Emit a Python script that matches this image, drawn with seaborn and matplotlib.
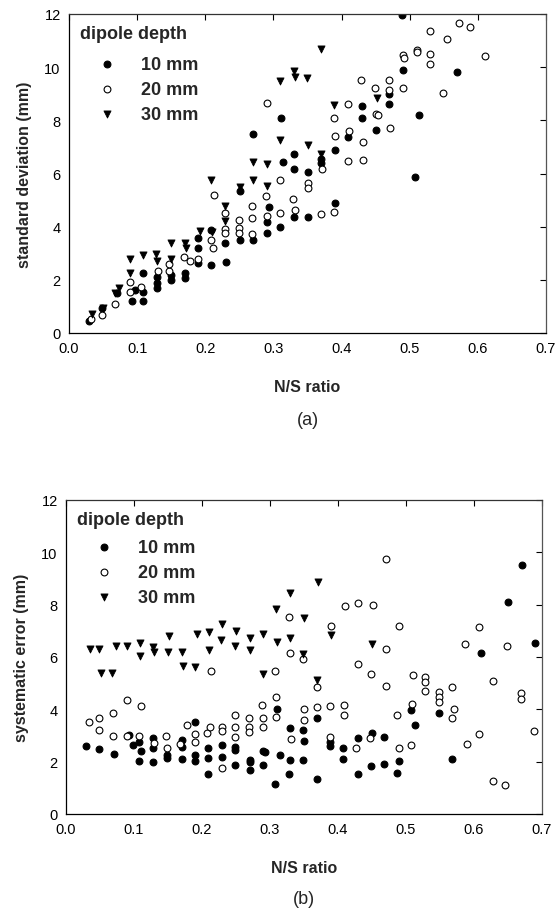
import matplotlib
matplotlib.use("Agg")
import matplotlib.pyplot as plt
import seaborn as sns
import pandas as pd

# ---------------- (a) standard deviation ----------------
sd10_x = [0.029, 0.048, 0.07, 0.093, 0.097, 0.108, 0.109, 0.109, 0.129, 0.129, 0.129, 0.149, 0.15,
          0.17, 0.17, 0.19, 0.19, 0.19, 0.209, 0.209, 0.231, 0.229, 0.251, 0.251, 0.27, 0.27,
          0.291, 0.291, 0.293, 0.309, 0.311, 0.314, 0.33, 0.33, 0.33, 0.351, 0.35, 0.37, 0.37,
          0.391, 0.391, 0.409, 0.43, 0.43, 0.451, 0.469, 0.469, 0.49, 0.489, 0.508, 0.514, 0.57]
sd10_y = [0.44, 0.95, 1.5, 1.21, 1.6, 1.21, 1.55, 2.27, 1.68, 1.89, 2.1, 1.98, 2.2,
          2.08, 2.27, 2.65, 3.18, 3.58, 2.56, 3.87, 2.68, 3.4, 3.49, 5.33, 3.5, 7.47,
          3.76, 4.16, 4.73, 3.97, 8.1, 6.42, 4.35, 6.18, 6.72, 4.35, 6.06, 6.39, 6.55,
          4.88, 6.9, 7.36, 8.09, 8.53, 7.65, 8.62, 8.99, 9.9, 11.95, 5.86, 8.19, 9.8]

sd20_x = [0.033, 0.048, 0.068, 0.089, 0.089, 0.106, 0.13, 0.147, 0.147, 0.169, 0.177, 0.19,
          0.209, 0.211, 0.213, 0.229, 0.229, 0.229, 0.25, 0.25, 0.25, 0.269, 0.269, 0.269,
          0.289, 0.29, 0.29, 0.31, 0.31, 0.329, 0.331, 0.351, 0.351, 0.37, 0.371,
          0.389, 0.389, 0.39, 0.41, 0.411, 0.41, 0.429, 0.431, 0.431, 0.449, 0.451, 0.453,
          0.47, 0.47, 0.471, 0.49, 0.491, 0.49, 0.511, 0.511, 0.53, 0.53, 0.53, 0.554, 0.549,
          0.573, 0.589, 0.61]
sd20_y = [0.54, 0.66, 1.1, 1.55, 1.92, 1.74, 2.33, 2.33, 2.6, 2.87, 2.71, 2.77,
          3.5, 3.2, 5.18, 3.9, 3.76, 4.52, 3.96, 4.25, 3.78, 4.76, 4.32, 3.73,
          5.17, 4.41, 8.66, 4.52, 5.74, 5.03, 4.63, 5.63, 5.45, 4.47, 6.16,
          4.56, 8.1, 7.41, 8.62, 7.6, 6.48, 9.5, 7.18, 6.49, 9.2, 8.24, 8.2,
          9.52, 9.14, 7.71, 10.44, 10.36, 9.2, 10.63, 10.57, 11.37, 10.51, 10.13, 11.07, 9.03,
          11.65, 11.51, 10.42]

sd30_x = [0.034, 0.05, 0.068, 0.073, 0.089, 0.089, 0.108, 0.127, 0.129, 0.15, 0.15, 0.17,
          0.172, 0.192, 0.209, 0.21, 0.229, 0.229, 0.251, 0.27, 0.27, 0.29, 0.29, 0.31, 0.31,
          0.33, 0.332, 0.349, 0.35, 0.37, 0.37, 0.389, 0.452]
sd30_y = [0.73, 0.95, 1.49, 1.69, 2.77, 2.27, 2.94, 2.96, 2.71, 3.39, 2.77, 3.37,
          3.18, 3.83, 5.74, 3.81, 4.76, 4.22, 5.48, 6.43, 5.77, 6.37, 5.52, 9.49, 7.25,
          9.86, 9.64, 9.58, 7.06, 10.69, 6.74, 8.57, 8.85]

# ---------------- (b) systematic error ----------------
se10_x = [0.029, 0.049, 0.07, 0.093, 0.098, 0.107, 0.11, 0.107, 0.128, 0.128, 0.128, 0.149, 0.149,
          0.17, 0.17, 0.17, 0.19, 0.19, 0.19, 0.209, 0.209, 0.209, 0.229, 0.229, 0.249, 0.249, 0.248,
          0.27, 0.27, 0.27, 0.289, 0.293, 0.29, 0.31, 0.314, 0.308, 0.33, 0.33, 0.328,
          0.349, 0.35, 0.349, 0.369, 0.369, 0.388, 0.388, 0.407, 0.407, 0.429, 0.429,
          0.45, 0.449, 0.467, 0.467, 0.489, 0.487, 0.508, 0.513, 0.548, 0.567, 0.61, 0.65,
          0.67, 0.69]
se10_y = [2.59, 2.47, 2.29, 3.01, 2.63, 2.76, 2.41, 2.03, 2.92, 2.51, 2.0, 2.25, 2.13,
          2.82, 2.56, 2.09, 3.52, 2.25, 2.03, 2.53, 2.15, 1.52, 2.63, 2.19, 2.57, 2.44, 1.87,
          2.06, 1.97, 1.68, 2.42, 2.38, 1.87, 4.03, 2.25, 1.15, 3.27, 2.06, 1.53,
          3.2, 2.78, 2.06, 3.67, 1.33, 2.76, 2.59, 2.54, 2.1, 2.89, 1.52,
          3.11, 1.84, 2.95, 1.9, 2.04, 1.58, 3.99, 3.39, 3.86, 2.1, 6.15, 8.1,
          9.53, 6.52]

se20_x = [0.034, 0.049, 0.049, 0.069, 0.069, 0.089, 0.089, 0.11, 0.108, 0.13, 0.147, 0.148,
          0.168, 0.178, 0.189, 0.189, 0.207, 0.212, 0.213, 0.229, 0.23, 0.229, 0.248, 0.248, 0.248,
          0.269, 0.269, 0.269, 0.288, 0.289, 0.289, 0.308, 0.309, 0.309, 0.328, 0.329, 0.331,
          0.348, 0.35, 0.35, 0.369, 0.369, 0.39, 0.388, 0.388, 0.411, 0.409, 0.409,
          0.43, 0.429, 0.427, 0.451, 0.448, 0.447, 0.471, 0.47, 0.47, 0.489, 0.487, 0.489,
          0.51, 0.509, 0.508, 0.528, 0.528, 0.528, 0.548, 0.548, 0.548, 0.568, 0.57, 0.567,
          0.587, 0.59, 0.607, 0.607, 0.628, 0.628, 0.648, 0.646, 0.669, 0.669, 0.688]
se20_y = [3.52, 3.65, 3.2, 3.86, 2.99, 4.34, 2.97, 4.13, 2.97, 2.7, 2.97, 2.54,
          2.66, 3.42, 3.06, 2.76, 3.1, 3.33, 5.46, 3.33, 3.16, 1.75, 3.8, 3.33, 2.95,
          3.67, 3.33, 3.14, 4.15, 3.67, 3.33, 5.48, 4.49, 3.71, 7.54, 6.14, 2.85,
          5.92, 4.03, 3.61, 4.85, 4.09, 7.19, 4.11, 2.95, 7.95, 4.15, 3.77,
          8.08, 5.73, 2.51, 7.97, 5.35, 2.91, 9.76, 6.3, 4.89, 7.2, 3.8, 2.51,
          5.32, 4.22, 2.63, 5.25, 5.06, 4.7, 4.66, 4.47, 4.28, 4.85, 4.03, 3.67,
          6.49, 2.66, 7.13, 3.04, 5.08, 1.27, 6.43, 1.11, 4.63, 4.41, 3.18]

se30_x = [0.035, 0.048, 0.051, 0.068, 0.073, 0.09, 0.109, 0.109, 0.128, 0.13, 0.151, 0.15,
          0.171, 0.172, 0.193, 0.19, 0.21, 0.21, 0.23, 0.228, 0.25, 0.249, 0.271, 0.271,
          0.29, 0.289, 0.309, 0.31, 0.329, 0.33, 0.35, 0.349, 0.37, 0.369, 0.389, 0.45]
se30_y = [6.3, 6.3, 5.39, 5.39, 6.43, 6.43, 6.52, 6.03, 6.37, 6.18, 6.81, 6.18,
          6.18, 5.67, 6.87, 5.61, 6.94, 6.27, 7.28, 6.66, 7.01, 6.43, 6.72, 6.28,
          6.87, 5.35, 7.82, 6.59, 8.46, 6.73, 7.48, 6.11, 8.87, 5.13, 6.85, 6.49]

depth_labels = ["10 mm", "20 mm", "30 mm"]
x_ticks = [0.0, 0.1, 0.2, 0.3, 0.4, 0.5, 0.6, 0.7]
y_ticks = [0, 2, 4, 6, 8, 10, 12]


def frame(xs, ys):
    rows = []
    for lab, x, y in zip(depth_labels, xs, ys):
        rows.append(pd.DataFrame({"ns": x, "val": y, "depth": lab}))
    return pd.concat(rows, ignore_index=True)


df_a = frame([sd10_x, sd20_x, sd30_x], [sd10_y, sd20_y, sd30_y])
df_b = frame([se10_x, se20_x, se30_x], [se10_y, se20_y, se30_y])

sns.set_theme(style="white")
plt.rcParams["font.family"] = ["Liberation Sans", "DejaVu Sans"]

W, H = 555, 912
fig = plt.figure(figsize=(W / 100, H / 100), dpi=100)


def px_axes(l, r, t, b):
    return fig.add_axes([l / W, 1 - b / H, (r - l) / W, (b - t) / H])


styles = {
    "10 mm": dict(marker="o", s=24, facecolor="black", edgecolor="black", linewidth=0.8),
    "20 mm": dict(marker="o", s=24, facecolor="white", edgecolor="black", linewidth=0.8),
    "30 mm": dict(marker="v", s=26, facecolor="black", edgecolor="black", linewidth=0.6),
}


def draw(ax, df, ylabel, tag, title_gap):
    for lab in depth_labels:
        sub = df[df["depth"] == lab]
        sns.scatterplot(data=sub, x="ns", y="val", ax=ax, label=lab, **styles[lab])
    ax.set_xlim(0, 0.7)
    ax.set_ylim(0, 12)
    ax.set_xticks(x_ticks)
    ax.set_xticklabels([f"{t:.1f}" for t in x_ticks])
    ax.set_yticks(y_ticks)
    ax.set_yticklabels([str(t) for t in y_ticks])
    ax.tick_params(direction="in", length=4, width=0.8, top=True, right=True,
                   labelsize=10.5, colors="black", pad=6)
    for sp in ax.spines.values():
        sp.set_visible(True)
        sp.set_color("black")
        sp.set_linewidth(0.9)
    ax.spines["right"].set_color("#555555")
    ax.spines["top"].set_color("#333333")
    ax.set_xlabel("N/S ratio", fontsize=11.5, fontweight="bold", labelpad=17)
    ax.set_ylabel(ylabel, fontsize=11.5, fontweight="bold", labelpad=9)
    leg = ax.legend(title="dipole depth", loc="upper left", frameon=False,
                    prop={"weight": "bold", "size": 13},
                    title_fontproperties={"weight": "bold", "size": 13},
                    handletextpad=0.4, borderaxespad=0.15, labelspacing=0.45,
                    alignment="left", borderpad=0.45, handlelength=3.0)
    leg._legend_box.sep = title_gap
    ax.text(0.5, -0.27, tag, transform=ax.transAxes, ha="center", va="center",
            fontsize=13)


ax1 = px_axes(69, 546, 15, 334)
draw(ax1, df_a, "standard deviation (mm)", "(a)", 10)
ax2 = px_axes(66, 542, 501, 815)
draw(ax2, df_b, "systematic error (mm)", "(b)", 8)

fig.savefig("out.png", dpi=100)
